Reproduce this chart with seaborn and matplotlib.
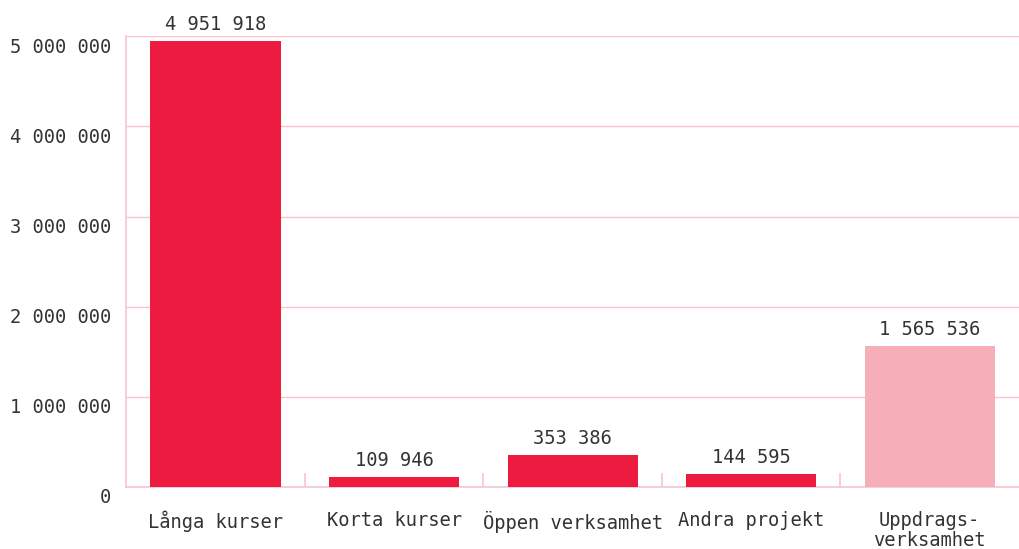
import matplotlib
matplotlib.use("Agg")
import matplotlib.pyplot as plt
import matplotlib.transforms as mtransforms
import pandas as pd
import seaborn as sns

categories = ["Långa kurser", "Korta kurser", "Öppen verksamhet", "Andra projekt", "Uppdrags-\nverksamhet"]
values = [4951918, 109946, 353386, 144595, 1565536]
bar_colors = ["#ED1B3F", "#ED1B3F", "#ED1B3F", "#ED1B3F", "#F6AEB9"]
y_ticks = [0, 1000000, 2000000, 3000000, 4000000, 5000000]

PINK = "#F8C3CE"
TEXT = "#333333"


def fmt(v):
    return f"{v:,}".replace(",", " ")


sns.set_theme(style="white")
plt.rcParams["font.family"] = ["DejaVu Sans Mono", "DejaVu Sans"]

df = pd.DataFrame({"category": categories, "value": values})

fig, ax = plt.subplots(figsize=(10.19, 5.49), dpi=100)
fig.subplots_adjust(left=0.124, right=1.0, top=0.934, bottom=0.113)

sns.barplot(data=df, x="category", y="value", hue="category", palette=bar_colors,
            legend=False, width=0.73, saturation=1, linewidth=0, ax=ax, zorder=3)

ax.set_ylim(0, 5000000)
ax.set_xlim(-0.5, len(categories) - 0.5)
ax.set_yticks(y_ticks)
ax.set_yticklabels([fmt(t) for t in y_ticks])
ax.yaxis.grid(True, color=PINK, linewidth=1, zorder=0)
ax.set_xlabel("")
ax.set_ylabel("")

for s in ["top", "right"]:
    ax.spines[s].set_visible(False)
for s in ["left", "bottom"]:
    ax.spines[s].set_color(PINK)
    ax.spines[s].set_linewidth(1.2)

ax.tick_params(axis="y", length=0, pad=11, labelsize=13.5, labelcolor=TEXT)
ax.tick_params(axis="x", length=0, pad=17, labelsize=13.5, labelcolor=TEXT)
offset = mtransforms.ScaledTranslation(0, -0.09, fig.dpi_scale_trans)
for lab in ax.get_yticklabels():
    lab.set_transform(lab.get_transform() + offset)
for lab in ax.get_xticklabels():
    lab.set_linespacing(1.1)

# category separator ticks on the baseline
ax.set_xticks([i + 0.5 for i in range(len(categories) - 1)], minor=True)
ax.tick_params(axis="x", which="minor", bottom=True, direction="in", length=10,
               color=PINK, width=1.2)

for i, v in enumerate(values):
    ax.annotate(fmt(v), (i, v), xytext=(0, 5), textcoords="offset points",
                ha="center", va="bottom", fontsize=13.5, color=TEXT)

fig.savefig("out.png", dpi=100)
